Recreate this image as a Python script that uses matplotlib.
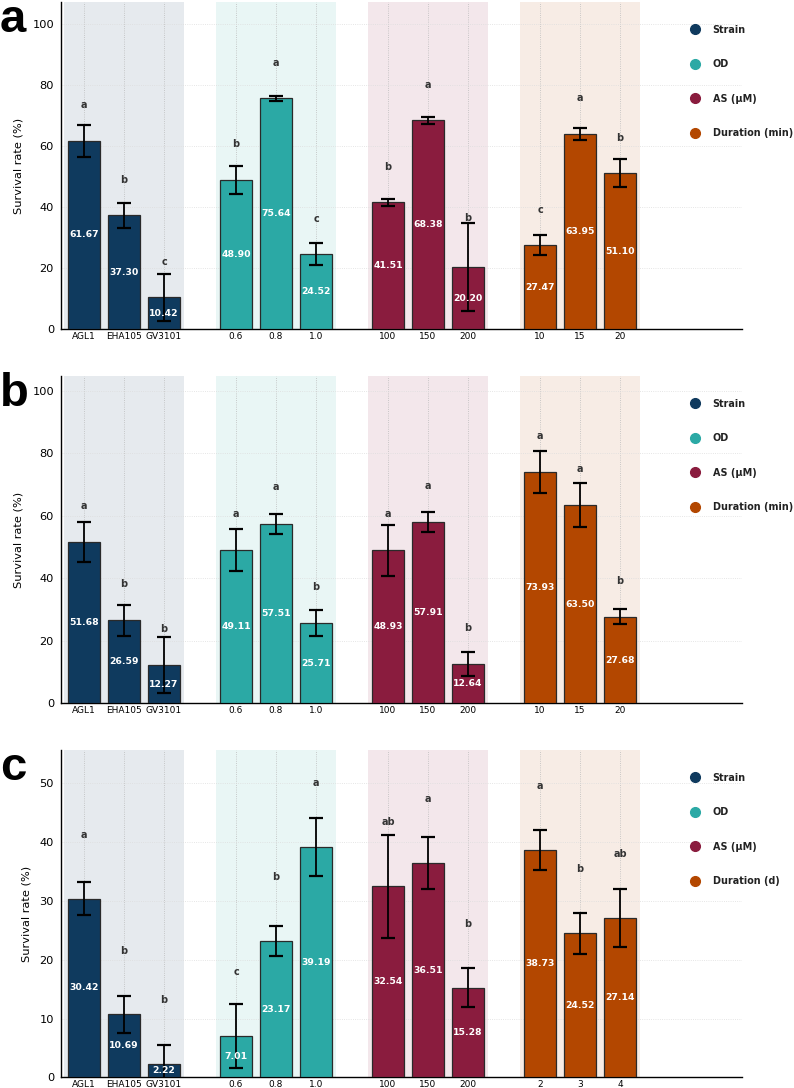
import matplotlib
matplotlib.use("Agg")
import matplotlib.pyplot as plt
from matplotlib.lines import Line2D
import numpy as np

# ---------------- data ----------------
strain_labels = ["AGL1", "EHA105", "GV3101"]
od_labels = ["0.6", "0.8", "1.0"]
as_labels = ["100", "150", "200"]
dur_labels_min = ["10", "15", "20"]
dur_labels_d = ["2", "3", "4"]

group_names_ab = ["Strain", "OD", "AS (μM)", "Duration (min)"]
group_names_c = ["Strain", "OD", "AS (μM)", "Duration (d)"]

# panel a
a_means = [61.67, 37.30, 10.42, 48.90, 75.64, 24.52, 41.51, 68.38, 20.20, 27.47, 63.95, 51.10]
a_sds = [5.2, 4.1, 7.7, 4.5, 0.9, 3.6, 1.2, 1.2, 14.4, 3.2, 2.1, 4.6]
a_letters = ["a", "b", "c", "b", "a", "c", "b", "a", "b", "c", "a", "b"]

# panel b
b_means = [51.68, 26.59, 12.27, 49.11, 57.51, 25.71, 48.93, 57.91, 12.64, 73.93, 63.50, 27.68]
b_sds = [6.5, 5.0, 9.0, 6.7, 3.2, 4.1, 8.2, 3.2, 3.8, 6.7, 6.9, 2.4]
b_letters = ["a", "b", "b", "a", "a", "b", "a", "a", "b", "a", "a", "b"]

# panel c
c_means = [30.42, 10.69, 2.22, 7.01, 23.17, 39.19, 32.54, 36.51, 15.28, 38.73, 24.52, 27.14]
c_sds = [2.75, 3.2, 3.2, 5.45, 2.5, 4.95, 8.75, 4.45, 3.35, 3.4, 3.5, 4.9]
c_letters = ["a", "b", "b", "c", "b", "a", "ab", "a", "b", "a", "b", "ab"]

colors = ["#0F3A5E", "#2BA9A5", "#8A1C3E", "#B34700"]

# ---------------- figure ----------------
fig = plt.figure(figsize=(7.94, 10.88), dpi=100)

L, R = 61 / 794, 742 / 794
panels = [
    ("a", a_means, a_sds, a_letters, dur_labels_min, group_names_ab, 107.2, 329, 2, [0, 20, 40, 60, 80, 100]),
    ("b", b_means, b_sds, b_letters, dur_labels_min, group_names_ab, 104.8, 703.3, 376, [0, 20, 40, 60, 80, 100]),
    ("c", c_means, c_sds, c_letters, dur_labels_d, group_names_c, 55.7, 1077.3, 750, [0, 10, 20, 30, 40, 50]),
]

H = 1088
gap = 0.8
for tag, means, sds, letters, durlabels, gnames, ytop, ybot_px, ytop_px, yticks in panels:
    ax = fig.add_axes([L, 1 - ybot_px / H, R - L, (ybot_px - ytop_px) / H])
    labels = strain_labels + od_labels + as_labels + durlabels
    x = []
    for g in range(4):
        for i in range(3):
            x.append(g * (3 + gap) + i)
    x = np.array(x)
    for g in range(4):
        start = g * (3 + gap)
        ax.axvspan(start - 0.5, start + 2.5, color=colors[g], alpha=0.1, lw=0, zorder=0)
    bar_colors = [colors[i // 3] for i in range(12)]
    ax.bar(x, means, width=0.8, color=bar_colors, edgecolor="#2a2a2a", linewidth=0.9, zorder=3)
    ax.errorbar(x, means, yerr=sds, fmt="none", ecolor="black", elinewidth=1.3,
                capsize=5, capthick=1.6, zorder=4)
    for xi, m, s, lt in zip(x, means, sds, letters):
        ax.text(xi, max(m + 10, m + s), lt, ha="center", va="bottom",
                fontsize=7, fontweight="bold", color="#333333", zorder=5)
        ax.text(xi, m / 2, f"{m:.2f}", ha="center", va="center",
                fontsize=6.7, fontweight="bold", color="white", zorder=5)
    ax.set_xlim(-0.575, 16.45)
    ax.set_ylim(0, ytop)
    ax.set_yticks(yticks)
    ax.set_xticks(x)
    ax.set_xticklabels(labels, fontsize=6.5)
    ax.tick_params(axis="y", labelsize=8.2, length=0, pad=5)
    ax.tick_params(axis="x", length=0, pad=2)
    ax.set_ylabel("Survival rate (%)", fontsize=8.2, labelpad=6)
    ax.grid(True, axis="y", linestyle=":", linewidth=0.6, color="#dddddd", zorder=1)
    ax.grid(True, axis="x", linestyle=":", linewidth=0.6, color="#bbbbbb", zorder=1)
    ax.set_axisbelow(True)
    for sp in ["top", "right"]:
        ax.spines[sp].set_visible(False)
    ax.spines["left"].set_linewidth(1.0)
    ax.spines["bottom"].set_linewidth(1.0)

    handles = [Line2D([0], [0], marker="o", linestyle="none", markersize=7,
                      markerfacecolor=c, markeredgecolor=c) for c in colors]
    leg = ax.legend(handles, gnames, loc="upper left", bbox_to_anchor=(0.919, 0.942),
                    frameon=False, labelspacing=2.55, handletextpad=1.3,
                    handlelength=1.0, borderaxespad=0,
                    prop={"size": 6.9, "weight": "bold"})
    for t in leg.get_texts():
        t.set_color("#222222")

    fig.text(0.0, 1 - (ytop_px - 4) / H, tag, ha="left", va="top",
             fontsize=34, fontweight="bold", family=["Liberation Sans", "DejaVu Sans"])

fig.savefig("out.png", dpi=100)
